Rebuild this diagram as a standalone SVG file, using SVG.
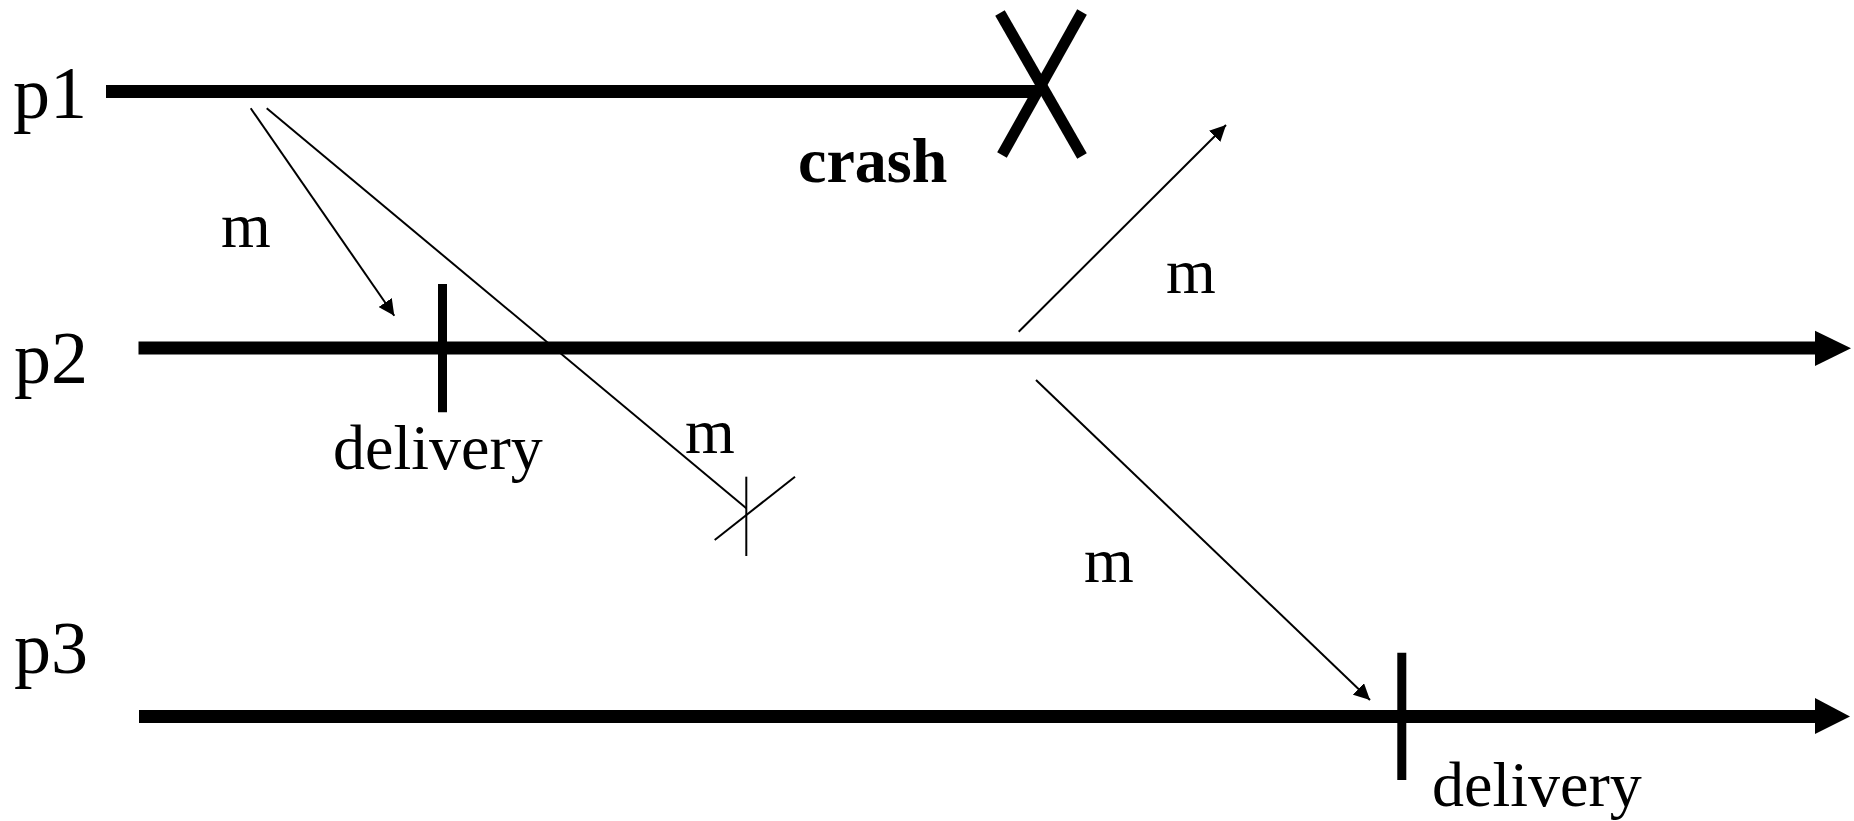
<svg xmlns="http://www.w3.org/2000/svg" width="1854" height="821" viewBox="0 0 1854 821">
<style>
  .timeline { stroke:#000; stroke-width:13; fill:none; }
  .tick { stroke:#000; stroke-width:9; fill:none; }
  .crashx { stroke:#000; stroke-width:11; fill:none; }
  .msg { stroke:#000; stroke-width:2; fill:none; }
  .lbl { font-family:"Liberation Serif","Times New Roman",serif; font-size:64px; fill:#000; }
  .plbl { font-family:"Liberation Serif","Times New Roman",serif; font-size:74px; fill:#000; }
  .bold { font-weight:bold; }
</style>
<defs>
  <marker id="ah" markerUnits="userSpaceOnUse" markerWidth="16" markerHeight="16" refX="15" refY="7.5" orient="auto" viewBox="0 0 15 15">
    <path d="M0,0 L15,7.5 L0,15 z" fill="#000"/>
  </marker>
</defs>
<rect width="1854" height="821" fill="#fff"/>
<g id="p1">
  <text class="plbl" x="13" y="118">p1</text>
  <line class="timeline" x1="106" y1="91.5" x2="1038" y2="91.5"/>
</g>
<g id="crash">
  <line class="crashx" x1="1000" y1="13" x2="1082" y2="156"/>
  <line class="crashx" x1="1082" y1="12" x2="1002" y2="155"/>
  <text class="lbl bold" x="798" y="182">crash</text>
</g>
<g id="p2">
  <text class="plbl" x="14" y="383">p2</text>
  <line class="timeline" x1="138.5" y1="348" x2="1816" y2="348"/>
  <polygon points="1815,330.7 1851,348.3 1815,366" fill="#000"/>
</g>
<g id="p3">
  <text class="plbl" x="14" y="673">p3</text>
  <line class="timeline" x1="139" y1="716.5" x2="1816" y2="716.5"/>
  <polygon points="1815,698 1850,716.5 1815,734" fill="#000"/>
</g>
<g id="delivery-p2">
  <line class="tick" x1="442.5" y1="284" x2="442.5" y2="412.3"/>
  <text class="lbl" x="333" y="469">delivery</text>
</g>
<g id="delivery-p3">
  <line class="tick" x1="1401.8" y1="652.7" x2="1401.8" y2="780"/>
  <text class="lbl" x="1432" y="806">delivery</text>
</g>
<g id="loss">
  <line class="msg" x1="746.3" y1="476.7" x2="746.3" y2="556"/>
  <line class="msg" x1="714.7" y1="540" x2="795" y2="476.7"/>
</g>
<g id="connectors">
  <line class="msg" x1="250.7" y1="108.3" x2="394.3" y2="315.7" marker-end="url(#ah)"/>
  <line class="msg" x1="266.7" y1="108.3" x2="746.3" y2="508.3"/>
  <line class="msg" x1="1018.7" y1="331.7" x2="1226" y2="125" marker-end="url(#ah)"/>
  <line class="msg" x1="1036" y1="380" x2="1370" y2="700" marker-end="url(#ah)"/>
</g>
<g id="labels">
  <text class="lbl" x="221" y="247">m</text>
  <text class="lbl" x="1166" y="293">m</text>
  <text class="lbl" x="685" y="453">m</text>
  <text class="lbl" x="1084" y="582">m</text>
</g>
</svg>
